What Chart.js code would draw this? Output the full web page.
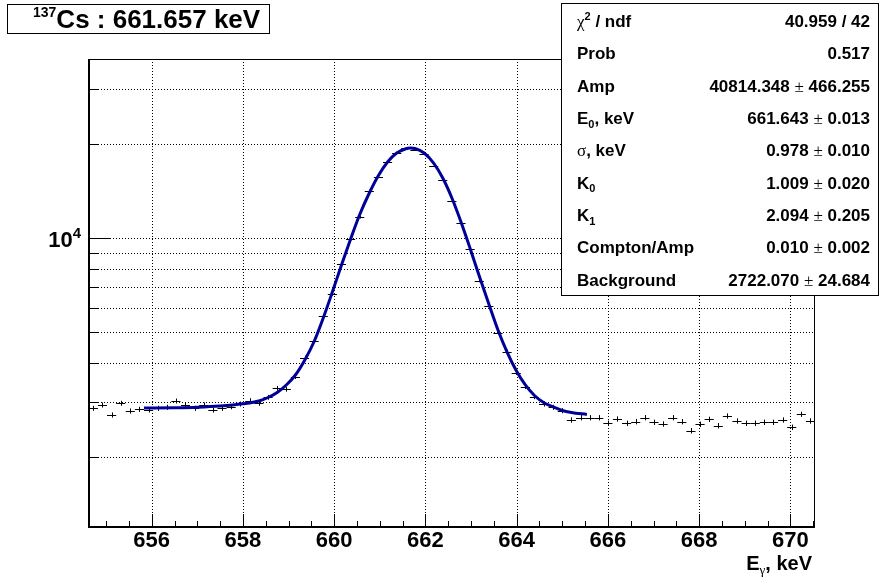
<!DOCTYPE html>
<html>
<head>
<meta charset="utf-8">
<title>137Cs : 661.657 keV</title>
<script src="https://cdn.jsdelivr.net/npm/chart.js@4.4.1/dist/chart.umd.min.js"></script>
<style>
  html, body { margin: 0; padding: 0; background: #fff; }
  canvas { display: block; }
</style>
</head>
<body>
<canvas id="spectrum" width="881" height="581"></canvas>
<script>
'use strict';

// bin centres (keV) and counts per bin
const energies = [
  654.72, 654.92, 655.12, 655.32, 655.53, 655.73, 655.93, 656.13, 656.33, 656.53,
  656.74, 656.94, 657.14, 657.34, 657.54, 657.74, 657.94, 658.15, 658.35, 658.55,
  658.75, 658.95, 659.15, 659.35, 659.56, 659.76, 659.96, 660.16, 660.36, 660.56,
  660.77, 660.97, 661.17, 661.37, 661.57, 661.77, 661.97, 662.18, 662.38, 662.58,
  662.78, 662.98, 663.18, 663.39, 663.59, 663.79, 663.99, 664.19, 664.39, 664.59,
  664.80, 665.00, 665.20, 665.40, 665.60, 665.80, 666.00, 666.21, 666.41, 666.61,
  666.81, 667.01, 667.21, 667.42, 667.62, 667.82, 668.02, 668.22, 668.42, 668.62,
  668.83, 669.03, 669.23, 669.43, 669.63, 669.83, 670.03, 670.24, 670.44
];
const counts = [
  2862, 2933, 2725, 2970, 2806, 2841, 2827, 2862, 2884, 3020,
  2933, 2862, 2933, 2827, 2862, 2896, 2954, 3027, 2970, 3104,
  3316, 3292, 3612, 4153, 4707, 5646, 6637, 8258, 9949, 11672,
  14166, 15735, 17570, 18775, 19391, 19152, 18594, 17061, 15356, 13160,
  11167, 9265, 7319, 6076, 4993, 4341, 3720, 3355, 3117, 2954,
  2884, 2812, 2626, 2671, 2671, 2671, 2564, 2645, 2564, 2594,
  2671, 2582, 2550, 2671, 2594, 2427, 2544, 2639, 2518, 2705,
  2607, 2564, 2564, 2582, 2582, 2626, 2489, 2739, 2607
];

// fit curve
const fitEnergies = [
  655.83, 656.5, 657.0, 657.5, 658.0, 658.35, 658.55, 658.75, 658.95, 659.15,
  659.35, 659.56, 659.76, 659.96, 660.16, 660.36, 660.56, 660.77, 660.97, 661.17,
  661.37, 661.57, 661.67, 661.77, 661.97, 662.18, 662.38, 662.58, 662.78, 662.98,
  663.18, 663.39, 663.59, 663.79, 663.99, 664.19, 664.39, 664.59, 664.80, 665.00,
  665.20, 665.54
];
const fitCounts = [
  2869, 2875, 2886, 2911, 2959, 3020, 3099, 3216, 3398, 3657,
  4069, 4680, 5564, 6735, 8216, 9949, 11917, 13958, 15873, 17530,
  18732, 19333, 19436, 19364, 18732, 17400, 15583, 13454, 11275, 9278,
  7577, 6166, 5093, 4331, 3781, 3398, 3145, 2987, 2890, 2817,
  2776, 2735
];

const xMajorTicks = [656, 658, 660, 662, 664, 666, 668, 670];
const xMinorTicks = [655, 655.5, 656.5, 657, 657.5, 658.5, 659, 659.5, 660.5, 661, 661.5,
  662.5, 663, 663.5, 664.5, 665, 665.5, 666.5, 667, 667.5, 668.5, 669, 669.5, 670.5];
const yMajorTicks = [10000];
const yMinorTicks = [2000, 3000, 4000, 5000, 6000, 7000, 8000, 9000, 20000, 30000];
const yTickLabels = ['10^{4}'];

const titleText = '^{137}Cs : 661.657 keV';
const xAxisTitle = 'E_{γ}, keV';
const statLabels = ['χ^{2} / ndf', 'Prob', 'Amp', 'E_{0}, keV', 'σ, keV', 'K_{0}', 'K_{1}', 'Compton/Amp', 'Background'];
const statValues = ['40.959 / 42', '0.517', '40814.348', '661.643', '0.978', '1.009', '2.094', '0.010', '2722.070'];
const statErrors = ['', '', '466.255', '0.013', '0.010', '0.020', '0.205', '0.002', '24.684'];

const X_MIN = 654.625, X_MAX = 670.54;
const Y_MIN = 1195, Y_MAX = 37410;
const BIN_HALF = 0.1;

const FONT = '"Liberation Sans", Arial, Helvetica, sans-serif';
const SYMBOL = '"Liberation Serif", "Times New Roman", serif';
const GREEK = /[χσγ±]/;

function bold(size) { return 'bold ' + size + 'px ' + FONT; }
function symbol(size) { return size + 'px ' + SYMBOL; }

// tiny latex-ish parser: ^{..} superscript, _{..} subscript, greek in symbol font
function parseText(str, size, scriptScale) {
  const parts = [];
  const re = /([_^])\{([^}]*)\}|([χσγ±])|([^_^χσγ±]+)/g;
  const small = Math.round(size * (scriptScale || 0.66));
  let m;
  while ((m = re.exec(str))) {
    if (m[1]) {
      parts.push({
        text: m[2],
        font: GREEK.test(m[2]) ? symbol(small) : bold(small),
        dy: m[1] === '^' ? -size * 0.42 : size * 0.22
      });
    } else if (m[3]) {
      parts.push({ text: m[3], font: symbol(size), dy: 0 });
    } else {
      parts.push({ text: m[4], font: bold(size), dy: 0 });
    }
  }
  return parts;
}

function drawText(ctx, str, size, x, y, align, scriptScale) {
  const parts = parseText(str, size, scriptScale);
  let width = 0;
  parts.forEach(p => {
    ctx.font = p.font;
    p.w = ctx.measureText(p.text).width;
    width += p.w;
  });
  let cx = x;
  if (align === 'right') cx = x - width;
  if (align === 'center') cx = x - width / 2;
  ctx.textAlign = 'left';
  ctx.textBaseline = 'alphabetic';
  parts.forEach(p => {
    ctx.font = p.font;
    ctx.fillText(p.text, cx, y + p.dy);
    cx += p.w;
  });
}

function line(ctx, x1, y1, x2, y2) {
  ctx.beginPath();
  ctx.moveTo(x1, y1);
  ctx.lineTo(x2, y2);
  ctx.stroke();
}

const rootStyle = {
  id: 'rootStyle',

  beforeDatasetsDraw(chart) {
    const ctx = chart.ctx;
    const area = chart.chartArea;
    const xs = chart.scales.x, ys = chart.scales.y;

    ctx.save();
    ctx.strokeStyle = '#000';
    ctx.lineWidth = 1;
    ctx.setLineDash([1, 2]);
    xMajorTicks.forEach(v => {
      const px = Math.round(xs.getPixelForValue(v)) + 0.5;
      line(ctx, px, area.top, px, area.bottom);
    });
    yMajorTicks.concat(yMinorTicks).forEach(v => {
      const py = Math.round(ys.getPixelForValue(v)) + 0.5;
      line(ctx, area.left, py, area.right, py);
    });
    ctx.setLineDash([]);

    // data points with error bars
    ctx.beginPath();
    ctx.rect(area.left, area.top, area.right - area.left, area.bottom - area.top);
    ctx.clip();
    energies.forEach((e, i) => {
      const n = counts[i];
      const err = Math.sqrt(n);
      const cx = Math.round(xs.getPixelForValue(e)) + 0.5;
      const cy = Math.round(ys.getPixelForValue(n)) + 0.5;
      line(ctx, xs.getPixelForValue(e - BIN_HALF), cy, xs.getPixelForValue(e + BIN_HALF), cy);
      line(ctx, cx, ys.getPixelForValue(n + err), cx, ys.getPixelForValue(n - err));
    });
    ctx.restore();
  },

  afterDatasetsDraw(chart) {
    const ctx = chart.ctx;
    const area = chart.chartArea;
    const xs = chart.scales.x, ys = chart.scales.y;

    ctx.save();
    ctx.strokeStyle = '#000';
    ctx.fillStyle = '#000';

    // frame
    ctx.lineWidth = 1;
    line(ctx, area.left, area.top + 0.5, area.right, area.top + 0.5);
    line(ctx, area.right - 0.5, area.top, area.right - 0.5, area.bottom);
    ctx.lineWidth = 2;
    line(ctx, area.left, area.top, area.left, area.bottom + 1);
    line(ctx, area.left - 1, area.bottom, area.right, area.bottom);

    // tick marks, drawn inside the frame
    ctx.lineWidth = 1;
    xMajorTicks.forEach(v => {
      const px = Math.round(xs.getPixelForValue(v)) + 0.5;
      line(ctx, px, area.bottom, px, area.bottom - 13);
    });
    xMinorTicks.forEach(v => {
      const px = Math.round(xs.getPixelForValue(v)) + 0.5;
      line(ctx, px, area.bottom, px, area.bottom - 6);
    });
    yMajorTicks.forEach(v => {
      const py = Math.round(ys.getPixelForValue(v)) + 0.5;
      line(ctx, area.left, py, area.left + 21, py);
    });
    yMinorTicks.forEach(v => {
      const py = Math.round(ys.getPixelForValue(v)) + 0.5;
      line(ctx, area.left, py, area.left + 10, py);
    });

    // y tick labels and x axis title
    yMajorTicks.forEach((v, i) => {
      drawText(ctx, yTickLabels[i], 22, area.left - 8, ys.getPixelForValue(v) + 9, 'right');
    });
    drawText(ctx, xAxisTitle, 20, 812, 570, 'right');

    // title box
    ctx.fillStyle = '#fff';
    ctx.fillRect(7.5, 4.5, 262, 29);
    ctx.strokeRect(7.5, 4.5, 262, 29);
    ctx.fillStyle = '#000';
    drawText(ctx, titleText, 26, 33, 28, 'left', 0.52);

    // stats box
    ctx.fillStyle = '#fff';
    ctx.fillRect(561.5, 3.5, 317, 292);
    ctx.strokeRect(561.5, 3.5, 317, 292);
    ctx.fillStyle = '#000';
    statLabels.forEach((label, i) => {
      const y = 26.8 + i * 32.35;
      drawText(ctx, label, 17, 577, y, 'left');
      const value = statErrors[i] ? statValues[i] + ' ± ' + statErrors[i] : statValues[i];
      drawText(ctx, value, 17, 870, y, 'right');
    });
    ctx.restore();
  }
};

new Chart(document.getElementById('spectrum'), {
  type: 'scatter',
  data: {
    datasets: [
      {
        label: 'data',
        data: energies.map((e, i) => ({ x: e, y: counts[i] })),
        pointRadius: 0,
        showLine: false
      },
      {
        label: 'fit',
        data: fitEnergies.map((e, i) => ({ x: e, y: fitCounts[i] })),
        showLine: true,
        borderColor: '#000099',
        borderWidth: 3,
        pointRadius: 0,
        fill: false,
        cubicInterpolationMode: 'monotone'
      }
    ]
  },
  options: {
    responsive: false,
    animation: false,
    devicePixelRatio: 1,
    layout: { padding: { top: 59, right: 66, left: 0, bottom: 0 } },
    plugins: {
      legend: { display: false },
      tooltip: { enabled: false },
      title: { display: false }
    },
    scales: {
      x: {
        type: 'linear',
        min: X_MIN,
        max: X_MAX,
        grid: { display: false, drawTicks: false },
        border: { display: false },
        afterBuildTicks: scale => { scale.ticks = xMajorTicks.map(v => ({ value: v })); },
        afterFit: scale => { scale.height = 54; },
        ticks: {
          color: '#000',
          font: { family: FONT, size: 22, weight: 'bold' },
          padding: 1,
          maxRotation: 0,
          autoSkip: false,
          callback: v => String(v)
        }
      },
      y: {
        type: 'logarithmic',
        min: Y_MIN,
        max: Y_MAX,
        grid: { display: false, drawTicks: false },
        border: { display: false },
        afterBuildTicks: scale => { scale.ticks = yMajorTicks.map(v => ({ value: v })); },
        afterFit: scale => { scale.width = 89; },
        ticks: { display: false }
      }
    }
  },
  plugins: [rootStyle]
});
</script>
</body>
</html>
